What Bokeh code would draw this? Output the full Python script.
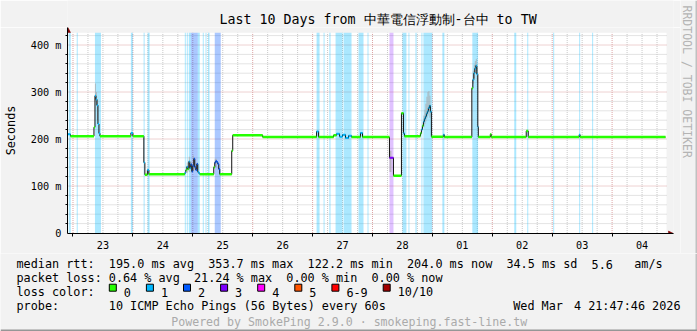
import numpy as np
from bokeh.plotting import figure
from bokeh.models import Range1d, FixedTicker
from bokeh.layouts import column, row
from bokeh.core.properties import value
from bokeh.embed import file_html
from bokeh.resources import INLINE

# ---------------- data (time = hours since 2026-02-23 00:00) ----------------
title_text = "Last 10 Days from 中華電信浮動制-台中 to TW"
day_labels = ["23", "24", "25", "26", "27", "28", "01", "02", "03", "04"]
graph_start_h = -2.2     # Feb 22 21:47:46
graph_end_h = 237.8      # Mar 4 21:47:46

# median rtt (ms), step series: value holds from med_h[i] to med_h[i+1]
med_h = [-2.2, -1.0, 8.4, 8.8, 9.2, 9.6, 10.0, 10.4, 10.8, 23.2, 24.0, 28.4, 28.8, 29.8, 30.4,
         44.8, 45.2, 45.6, 46.0, 46.4, 46.8, 47.2, 47.6, 48.0, 48.4, 48.8, 49.2, 49.6, 50.0, 50.4, 50.8,
         56.4, 56.8, 57.2, 57.6, 58.0, 58.4, 58.8, 63.6, 64.0, 76.0, 97.6, 98.4,
         104.4, 105.6, 106.8, 108.0, 109.2, 110.4, 111.6, 115.2, 116.0, 126.8, 128.4, 131.6, 132.4, 132.8,
         139.2, 139.6, 140.0, 140.4, 140.8, 141.2, 141.6, 142.0, 142.4, 142.8, 143.2, 143.6, 148.4, 148.8,
         159.8, 160.2, 160.6, 161.0, 161.4, 161.8, 162.2, 162.4, 167.2, 167.6, 181.6, 182.4,
         202.8, 203.2, 237.4]
med_ms = [210, 206, 225, 292, 284, 272, 232, 212, 206, 213, 206, 150, 124, 134, 125,
          128, 134, 141, 136, 152, 138, 146, 131, 143, 158, 140, 134, 147, 130, 127, 125,
          140, 150, 153, 151, 147, 136, 125, 175, 208, 204, 216, 204,
          208, 211, 205, 209, 202, 207, 204, 213, 204, 160, 122, 255, 212, 206,
          212, 220, 228, 237, 243, 248, 254, 259, 266, 271, 258, 205, 209, 204,
          308, 326, 340, 350, 356, 338, 226, 204, 210, 204, 217, 204,
          209, 204, 204]

# packet-loss background bars: start, end (hours), loss level (pings lost of 10)
loss_h0 = [-1.7, 1.5, 8.8, 23.2, 28.3, 29.9, 44.8, 45.6, 46.4, 47.2, 50.0, 52.0, 53.1, 54.1, 56.8,
           97.6, 100.4, 102.7, 105.2, 108.4, 114.4, 118.0, 126.8, 132.0, 134.4, 137.2, 139.6, 140.4,
           148.0, 160.0, 176.8, 182.0, 192.4, 202.8, 208.0]
loss_h1 = [-0.9, 1.9, 11.2, 24.0, 28.7, 30.7, 45.2, 46.0, 47.2, 50.0, 50.8, 52.4, 53.5, 54.7, 59.2,
           98.8, 100.8, 103.2, 108.0, 111.6, 116.4, 118.4, 128.4, 133.6, 134.8, 137.7, 140.0, 144.0,
           148.8, 162.3, 177.6, 182.4, 192.8, 203.2, 208.4]
loss_level = [1, 1, 1, 1, 1, 1, 1, 1, 1, 2, 1, 1, 1, 1, 2,
              1, 1, 1, 1, 1, 1, 1, 3, 1, 1, 1, 1, 1,
              1, 1, 1, 1, 1, 1, 1]

# smoke (spread of the individual pings): start, end (hours), low, high (ms)
smoke_h0 = [8.8, 9.2, 9.6, 45.6, 46.4, 47.2, 48.0, 48.4, 49.6, 56.8, 126.8,
            140.4, 140.8, 141.2, 141.6, 142.0, 142.4, 142.8, 160.2, 160.6, 161.0, 161.4, 161.8]
smoke_h1 = [9.2, 9.6, 10.0, 46.0, 46.8, 47.6, 48.4, 48.8, 50.0, 57.6, 127.6,
            140.8, 141.2, 141.6, 142.0, 142.4, 142.8, 143.2, 160.6, 161.0, 161.4, 161.8, 162.2]
smoke_lo = [280, 270, 240, 128, 130, 128, 132, 135, 128, 140, 130,
            225, 232, 238, 244, 250, 256, 245, 318, 330, 340, 345, 320]
smoke_hi = [318, 300, 285, 150, 162, 152, 165, 160, 150, 158, 175,
            250, 262, 275, 290, 300, 302, 292, 345, 358, 366, 370, 352]

loss_labels = ["0", "1", "2", "3", "4", "5", "6-9", "10/10"]
loss_colors = ["#26ff00", "#00b8ff", "#0059ff", "#7e00ff", "#ff00ff", "#ff5500", "#ff0000", "#a10000"]

rtt_stats = [195.0, 353.7, 122.2, 204.0]          # avg max min now (ms)
rtt_names = ["avg", "max", "min", "now"]
rtt_sd = 34.5
rtt_ams = 5.6
loss_stats = [0.64, 21.24, 0.00, 0.00]            # avg max min now (%)
probe_text = "10 ICMP Echo Pings (56 Bytes) every 60s"
date_day = "Wed Mar"
date_rest = "4 21:47:46 2026"
footer_text = "Powered by SmokePing 2.9.0 · smokeping.fast-line.tw"
watermark = "RRDTOOL / TOBI OETIKER"

# ---------------- styling / layout ----------------
BG = "#f2f2f2"
MONO = "DejaVu Sans Mono"
GRID_MINOR = "#c8c8c8"
GRID_MAJOR = "#dca4a4"
W, H = 697, 331
HEADER_H = 27
MAIN_W = 680
FRAME_L, FRAME_R = 66, 673
FRAME_T, FRAME_B = 27, 233
PX_PER_H = 2.5
PX_PER_MS = 0.47
CW = 7.1  # legend char width
LX = 16   # legend left

x_start = graph_start_h
x_end = x_start + (FRAME_R - FRAME_L) / PX_PER_H
y_start = -0.5 / PX_PER_MS
y_end = y_start + (FRAME_B - FRAME_T) / PX_PER_MS
canvas_top = 426


def px_to_h(px):
    return x_start + (px - FRAME_L) / PX_PER_H


def px_to_ms(py):
    return y_start + (FRAME_B - py) / PX_PER_MS


def plain_fig(w, h, xr, yr):
    return figure(width=w, height=h, x_range=Range1d(*xr), y_range=Range1d(*yr),
                  output_backend="svg", toolbar_location=None, title=None,
                  x_axis_type=None, y_axis_type=None, min_border=0,
                  background_fill_color=BG, border_fill_color=BG, outline_line_color=None)


# header with the title
hdr = plain_fig(MAIN_W, HEADER_H, (0, MAIN_W), (HEADER_H, 0))
hdr.text(x=[W / 2], y=[19.3], text=[title_text], text_font=value(MONO), text_font_size="13.3px",
         text_align="center", text_baseline="alphabetic", text_color="black")

# main chart
main_h = 253 - HEADER_H
p = figure(width=MAIN_W, height=main_h, x_range=Range1d(x_start, x_end), y_range=Range1d(y_start, y_end),
           output_backend="svg", toolbar_location=None, title=None,
           min_border_left=FRAME_L, min_border_right=MAIN_W - FRAME_R, min_border_top=0,
           min_border_bottom=main_h - (FRAME_B - FRAME_T),
           background_fill_color=BG, border_fill_color=BG, outline_line_color=None)
p.xgrid.grid_line_color = None
p.ygrid.grid_line_color = None

# white canvas
p.quad(left=[graph_start_h], right=[graph_end_h], bottom=[y_start], top=[canvas_top],
       fill_color="white", line_color=None)

# grid
vt = np.arange(0, graph_end_h, 6)
v_major = [t for t in vt if t % 24 == 0]
v_minor = [t for t in vt if t % 24 != 0]
ht = np.arange(20, canvas_top, 20)
h_major = [v for v in ht if v % 100 == 0]
h_minor = [v for v in ht if v % 100 != 0]
p.segment(x0=v_minor, y0=0, x1=v_minor, y1=canvas_top, line_color=GRID_MINOR, line_width=1, line_dash="1 1")
p.segment(x0=graph_start_h, y0=h_minor, x1=graph_end_h, y1=h_minor, line_color=GRID_MINOR, line_width=1,
          line_dash="1 1")
p.segment(x0=v_major, y0=0, x1=v_major, y1=canvas_top, line_color=GRID_MAJOR, line_width=1, line_dash="1 1")
p.segment(x0=graph_start_h, y0=h_major, x1=graph_end_h, y1=h_major, line_color=GRID_MAJOR, line_width=1,
          line_dash="1 1")

# loss bars
bar_alpha = {1: 0.33, 2: 0.33, 3: 0.24}
p.quad(left=loss_h0, right=loss_h1, bottom=0, top=canvas_top,
       fill_color=[loss_colors[l] for l in loss_level],
       fill_alpha=[bar_alpha.get(l, 0.33) for l in loss_level], line_color=None)

# smoke
p.quad(left=smoke_h0, right=smoke_h1, bottom=smoke_lo, top=smoke_hi,
       fill_color="#a8a8a8", fill_alpha=0.7, line_color=None)

# median (black steps + loss coloured pieces)
p.step(x=med_h, y=med_ms, mode="after", line_color="#111111", line_width=1)
g_xs, g_ys, c_xs, c_ys, c_col = [], [], [], [], []
for i in range(len(med_h) - 1):
    h0, h1, v = med_h[i], med_h[i + 1], med_ms[i]
    lvl, best = 0, 0.0
    for a, b, l in zip(loss_h0, loss_h1, loss_level):
        ov = min(h1, b) - max(h0, a)
        if ov > 0.5 * (h1 - h0) and ov > best:
            lvl, best = l, ov
    if lvl == 0:
        g_xs.append([h0, h1]); g_ys.append([v, v])
    else:
        c_xs.append([h0, h1]); c_ys.append([v, v]); c_col.append(loss_colors[lvl])
p.multi_line(xs=g_xs, ys=g_ys, line_color=loss_colors[0], line_width=2.5)
p.multi_line(xs=c_xs, ys=c_ys, line_color=c_col, line_width=2)

# axis arrows
p.patches(xs=[[px_to_h(64), px_to_h(66.5), px_to_h(69)], [px_to_h(668), px_to_h(673), px_to_h(668)]],
          ys=[[px_to_ms(32), px_to_ms(27), px_to_ms(32)], [px_to_ms(230.5), px_to_ms(233), px_to_ms(235.5)]],
          fill_color="#800000", line_color="#800000", line_width=0.5)

# axes
noon = [12 + 24 * i for i in range(len(day_labels))]
midnight = [24 * i for i in range(len(day_labels))]
p.xaxis.ticker = FixedTicker(ticks=noon, minor_ticks=midnight)
p.xaxis.major_label_overrides = {t: lbl for t, lbl in zip(noon, day_labels)}
p.xaxis.major_tick_out = 0
p.xaxis.major_tick_in = 0
p.xaxis.minor_tick_out = 3
p.xaxis.minor_tick_in = 0
p.xaxis.major_label_standoff = 4

y_major = [0, 100, 200, 300, 400]
y_minor = [v for v in range(20, 440, 20) if v % 100 != 0]
p.yaxis.ticker = FixedTicker(ticks=y_major, minor_ticks=y_minor)
p.yaxis.major_label_overrides = {v: ("0" if v == 0 else f"{v} m") for v in y_major}
p.yaxis.major_tick_out = 3
p.yaxis.major_tick_in = 0
p.yaxis.minor_tick_out = 2
p.yaxis.minor_tick_in = 0
p.yaxis.major_label_standoff = 3
p.yaxis.axis_label = "Seconds"
p.yaxis.axis_label_text_font = MONO
p.yaxis.axis_label_text_font_size = "11.8px"
p.yaxis.axis_label_text_font_style = "normal"
p.yaxis.axis_label_text_color = "black"
p.yaxis.axis_label_standoff = 10
for ax in (p.xaxis, p.yaxis):
    ax.axis_line_color = "black"
    ax.major_tick_line_color = "black" if ax is p.yaxis else None
    ax.minor_tick_line_color = "black"
    ax.major_label_text_font = MONO
    ax.major_label_text_font_size = "10.2px"
    ax.major_label_text_color = "black"

# right-side watermark
side = plain_fig(W - MAIN_W, 253, (MAIN_W, W), (253, 0))
side.text(x=[686], y=[5], text=[watermark], angle=-np.pi / 2, text_font=value(MONO),
          text_font_size="11.5px", text_align="left", text_baseline="middle", text_color="#b4b4b4")
side.quad(left=[W - 2], right=[W], bottom=[253], top=[0], fill_color="#c0c0c0", line_color=None)

# legend area (items placed on the monospace column grid)
leg = plain_fig(W, H - 253, (0, W), (H, 253))
items_x, items_y, items_t = [], [], []


def put(col, y, txt):
    items_x.append(LX + col * CW); items_y.append(y); items_t.append(txt)


y1, y2, y3, y4 = 263.5, 277.5, 291.5, 305.3
put(0, y1, "median rtt:")
for k, (v, nm) in enumerate(zip(rtt_stats, rtt_names)):
    put(13 + 14 * k, y1, f"{v:.1f} ms {nm}")
put(69, y1, f"{rtt_sd:.1f} ms sd")
put(81, y1, f"{rtt_ams:.1f}")
put(87, y1, "am/s")
put(0, y2, "packet loss:")
loss_cols = [13, 25, 38, 50]
for c, v, nm in zip(loss_cols, loss_stats, rtt_names):
    put(c, y2, f"{v:.2f} % {nm}")
put(0, y3, "loss color:")
put(0, y4, "probe:")
put(13, y4, probe_text)
leg.text(x=items_x, y=items_y, text=items_t, text_font=value(MONO), text_font_size="11.8px",
         text_align="left", text_baseline="alphabetic", text_color="black")
leg.text(x=[512.7], y=[y4], text=[date_day], text_font=value(MONO), text_font_size="11.8px",
         text_align="left", text_baseline="alphabetic", text_color="black")
leg.text(x=[680], y=[y4], text=[date_rest], text_font=value(MONO), text_font_size="11.8px",
         text_align="right", text_baseline="alphabetic", text_color="black")
leg.text(x=[348.7], y=[321], text=[footer_text], text_font=value(MONO), text_font_size="11.6px",
         text_align="center", text_baseline="alphabetic", text_color="#aaaaaa")

sq_x, lab_x = [], []
cur = LX + 13 * CW
for lbl in loss_labels:
    sq_x.append(cur + 4)
    lab_x.append(cur + 15)
    cur = cur + 15 + len(lbl) * CW + 15
leg.rect(x=sq_x, y=287.2, width=7, height=7, fill_color=loss_colors, line_color="black", line_width=1)
leg.text(x=lab_x, y=y3, text=loss_labels, text_font=value(MONO), text_font_size="11.8px",
         text_align="left", text_baseline="alphabetic", text_color="black")

# image frame (right / bottom shade)
leg.quad(left=[W - 2], right=[W], bottom=[H], top=[253], fill_color="#c0c0c0", line_color=None)
leg.quad(left=[0], right=[W], bottom=[H], top=[H - 2], fill_color="#969696", line_color=None)

layout = column(row(column(hdr, p), side), leg)
open("out.html", "w").write(file_html(layout, INLINE))
